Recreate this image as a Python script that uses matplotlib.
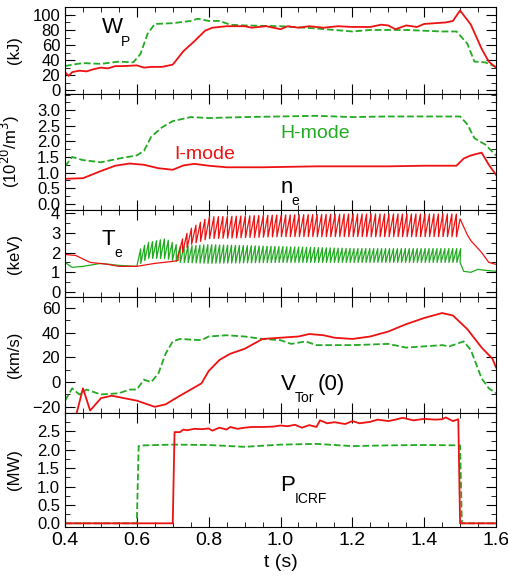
import numpy as np
import matplotlib
matplotlib.use("Agg")
import matplotlib.pyplot as plt
from matplotlib.ticker import AutoMinorLocator
from matplotlib.transforms import offset_copy

plt.rcParams['font.family'] = ['Liberation Sans', 'DejaVu Sans']

RED = '#ee1111'
GREEN = '#22aa22'

# W_P (kJ)
wp_i_t = [0.4, 0.41, 0.42, 0.44, 0.46, 0.48, 0.5, 0.52, 0.54, 0.56, 0.6, 0.62, 0.64, 0.67, 0.7, 0.73, 0.76, 0.79,
          0.81, 0.85, 0.9, 0.92, 0.96, 1.0, 1.02, 1.05, 1.08, 1.12, 1.16, 1.2, 1.25, 1.28, 1.3, 1.32, 1.35, 1.38,
          1.4, 1.46, 1.48, 1.5, 1.53, 1.56, 1.58, 1.6]
wp_i = [24, 19, 24, 26, 25, 28, 30, 29, 32, 32, 33, 30, 31, 31, 34, 52, 65, 79,
        83, 85, 85, 83, 85, 81, 85, 83, 85, 83, 85, 84, 84, 87, 86, 81, 86, 84,
        88, 90, 92, 106, 87, 55, 38, 30]
wp_h_t = [0.4, 0.42, 0.45, 0.5, 0.55, 0.59, 0.61, 0.63, 0.65, 0.7, 0.75, 0.77, 0.8, 0.83, 0.86, 0.9, 1.0, 1.1,
          1.2, 1.25, 1.35, 1.45, 1.49, 1.52, 1.54, 1.57, 1.6]
wp_h = [32, 34, 36, 35, 38, 37, 48, 75, 88, 89, 92, 95, 92, 92, 87, 86, 85, 82,
        78, 80, 80, 78, 78, 62, 38, 37, 31]

# n_e (1e20/m3)
ne_i_t = [0.4, 0.45, 0.5, 0.54, 0.58, 0.62, 0.66, 0.7, 0.73, 0.76, 0.8, 0.85, 0.95, 1.1, 1.3, 1.4, 1.49, 1.51,
          1.53, 1.56, 1.58, 1.6]
ne_i = [0.8, 0.82, 1.05, 1.22, 1.29, 1.25, 1.14, 1.09, 1.23, 1.28, 1.22, 1.17, 1.17, 1.2, 1.2, 1.22, 1.22, 1.45,
        1.55, 1.64, 1.25, 0.93]
ne_h_t = [0.4, 0.42, 0.45, 0.5, 0.55, 0.6, 0.62, 0.64, 0.67, 0.7, 0.75, 0.8, 0.9, 1.0, 1.1, 1.2, 1.3, 1.4, 1.5,
          1.52, 1.54, 1.57, 1.6]
ne_h = [1.2, 1.5, 1.4, 1.33, 1.45, 1.55, 1.7, 2.15, 2.45, 2.65, 2.78, 2.75, 2.78, 2.8, 2.82, 2.78, 2.8, 2.8, 2.8,
        2.55, 2.1, 1.9, 1.55]

# T_e (keV): smooth parts and sawtooth envelopes
te_i_pre_t = [0.4, 0.43, 0.47, 0.52, 0.55, 0.6, 0.65, 0.7, 0.715]
te_i_pre = [1.9, 1.85, 1.5, 1.4, 1.3, 1.3, 1.45, 1.55, 1.6]
te_i_env_t = [0.715, 0.75, 0.8, 1.0, 1.2, 1.49]
te_i_hi = [2.4, 3.2, 3.8, 3.9, 3.95, 3.95]
te_i_lo = [1.8, 2.4, 2.7, 2.8, 2.8, 2.8]
te_i_period = 0.0125
te_i_post_t = [1.49, 1.5, 1.52, 1.53, 1.56, 1.58, 1.6]
te_i_post = [2.8, 3.7, 2.9, 2.6, 2.0, 1.5, 1.4]

te_h_pre_t = [0.4, 0.42, 0.45, 0.5, 0.55, 0.6]
te_h_pre = [1.5, 1.25, 1.3, 1.45, 1.35, 1.3]
te_h_env_t = [0.6, 0.63, 0.68, 0.72, 0.8, 1.0, 1.2, 1.5]
te_h_hi = [2.0, 2.5, 2.7, 2.3, 2.4, 2.3, 2.2, 2.2]
te_h_lo = [1.3, 1.7, 1.7, 1.5, 1.45, 1.5, 1.5, 1.5]
te_h_period = 0.011
te_h_post_t = [1.5, 1.51, 1.53, 1.55, 1.57, 1.6]
te_h_post = [1.5, 1.05, 1.0, 1.15, 1.1, 1.05]

# V_Tor(0) (km/s)
vt_i_t = [0.4, 0.43, 0.45, 0.47, 0.5, 0.53, 0.6, 0.65, 0.68, 0.72, 0.75, 0.78, 0.8, 0.83, 0.86, 0.9, 0.95, 1.0,
          1.05, 1.08, 1.12, 1.15, 1.2, 1.25, 1.3, 1.35, 1.4, 1.45, 1.48, 1.52, 1.56, 1.59, 1.6]
vt_i = [-30, -28, -5, -23, -13, -11, -15, -20, -18, -11, -6, -1, 9, 18, 23, 27, 35, 36,
        37, 39, 38, 36, 35, 37, 41, 47, 52, 56, 54, 43, 28, 19, 12]
vt_h_t = [0.4, 0.42, 0.44, 0.46, 0.5, 0.55, 0.58, 0.6, 0.62, 0.64, 0.66, 0.68, 0.7, 0.72, 0.78, 0.8, 0.85, 0.9,
          0.95, 1.0, 1.03, 1.07, 1.1, 1.2, 1.3, 1.35, 1.45, 1.47, 1.51, 1.53, 1.56, 1.58, 1.6]
vt_h = [-15, -5, -10, -6, -10, -9, -6, -6, 2, 0, 7, 23, 33, 35, 34, 37, 38, 37,
        35, 34, 31, 33, 30, 30, 31, 28, 30, 29, 33, 26, 3, -5, -9]

# P_ICRF (MW)
p_i_t = [0.4, 0.7, 0.705, 0.72, 0.73, 0.74, 0.76, 0.78, 0.8, 0.81, 0.83, 0.85, 0.86, 0.88, 0.9, 0.92, 0.95,
         0.98, 1.0, 1.02, 1.04, 1.06, 1.08, 1.1, 1.11, 1.13, 1.15, 1.18, 1.2, 1.22, 1.25, 1.27, 1.3, 1.32, 1.34,
         1.37, 1.4, 1.43, 1.45, 1.46, 1.48, 1.495, 1.5, 1.6]
p_i = [0, 0, 2.48, 2.48, 2.55, 2.53, 2.57, 2.56, 2.58, 2.52, 2.6, 2.55, 2.62, 2.57, 2.6, 2.62, 2.62,
       2.63, 2.66, 2.64, 2.68, 2.6, 2.67, 2.62, 2.8, 2.72, 2.75, 2.7, 2.78, 2.72, 2.76, 2.82, 2.78, 2.82, 2.87,
       2.8, 2.84, 2.82, 2.83, 2.88, 2.78, 2.83, 0, 0]
p_h_t = [0.4, 0.6, 0.605, 0.62, 0.7, 0.8, 0.9, 1.0, 1.1, 1.2, 1.3, 1.4, 1.5, 1.505, 1.6]
p_h = [0, 0, 2.1, 2.12, 2.14, 2.13, 2.08, 2.14, 2.16, 2.1, 2.12, 2.13, 2.12, 0, 0]


def sawtooth(env_t, hi, lo, period):
    t0, t1 = env_t[0], env_t[-1]
    crashes = np.arange(t0, t1, period)
    ts, vs = [], []
    for c in crashes:
        ts += [c, c + period * 0.97]
        vs += [np.interp(c, env_t, lo), np.interp(c + period, env_t, hi)]
    return ts, vs


def label(ax, x, y, main, sub, dx, tail=None, dtail=0):
    ax.text(x, y, main, fontsize=16, transform=ax.transAxes)
    tr = offset_copy(ax.transAxes, fig=ax.figure, x=dx, y=-9, units='points')
    ax.text(x, y, sub, fontsize=10, transform=tr)
    if tail:
        tr2 = offset_copy(ax.transAxes, fig=ax.figure, x=dtail, y=0, units='points')
        ax.text(x, y, tail, fontsize=16, transform=tr2)


fig = plt.figure(figsize=(5.08, 5.82), dpi=100)
W, H = 508, 582
edges = [7, 94, 210, 297, 413, 527]
x0, x1 = 65, 496
axes = []
for k in range(5):
    ax = fig.add_axes([x0 / W, 1 - edges[k + 1] / H, (x1 - x0) / W, (edges[k + 1] - edges[k]) / H])
    axes.append(ax)

lw = 1.3
a = axes[0]
a.plot(wp_h_t, wp_h, '--', color=GREEN, lw=lw)
a.plot(wp_i_t, wp_i, '-', color=RED, lw=lw)
a.set_ylim(-5, 110.5)
a.set_yticks([0, 20, 40, 60, 80, 100])
a.set_ylabel('(kJ)')
label(a, 0.085, 0.7, 'W', 'P', 14)

a = axes[1]
a.plot(ne_h_t, ne_h, '--', color=GREEN, lw=lw)
a.plot(ne_i_t, ne_i, '-', color=RED, lw=lw)
a.set_ylim(-0.2, 3.52)
a.set_yticks([0, 0.5, 1, 1.5, 2, 2.5, 3])
a.set_yticklabels(['0.0', '0.5', '1.0', '1.5', '2.0', '2.5', '3.0'])
a.set_ylabel('(10$^{20}$/m$^3$)')
a.text(1.0, 2.1, 'H-mode', color=GREEN, fontsize=14)
a.text(0.704, 1.42, 'I-mode', color=RED, fontsize=14)
label(a, 0.5, 0.15, 'n', 'e', 8)

a = axes[2]
st, sv = sawtooth(te_h_env_t, te_h_hi, te_h_lo, te_h_period)
a.plot(te_h_pre_t + st + te_h_post_t, te_h_pre + sv + te_h_post, color=GREEN, lw=0.9)
st, sv = sawtooth(te_i_env_t, te_i_hi, te_i_lo, te_i_period)
a.plot(te_i_pre_t + st + te_i_post_t, te_i_pre + sv + te_i_post, color=RED, lw=0.9)
a.set_ylim(-0.25, 4.15)
a.set_yticks([0, 1, 2, 3, 4])
a.set_ylabel('(keV)')
label(a, 0.085, 0.6, 'T', 'e', 9)

a = axes[3]
a.plot(vt_h_t, vt_h, '--', color=GREEN, lw=lw)
a.plot(vt_i_t, vt_i, '-', color=RED, lw=lw)
a.set_ylim(-25, 69)
a.set_yticks([-20, 0, 20, 40, 60])
a.set_ylabel('(km/s)')
label(a, 0.5, 0.2, 'V', 'Tor', 10, '(0)', 27)

a = axes[4]
a.plot(p_h_t, p_h, '--', color=GREEN, lw=lw)
a.plot(p_i_t, p_i, '-', color=RED, lw=lw)
a.set_ylim(-0.1, 3.0)
a.set_yticks([0, 0.5, 1, 1.5, 2, 2.5])
a.set_yticklabels(['0.0', '0.5', '1.0', '1.5', '2.0', '2.5'])
a.set_ylabel('(MW)')
label(a, 0.5, 0.32, 'P', 'ICRF', 10)

for k, a in enumerate(axes):
    a.set_xlim(0.4, 1.6)
    a.set_xticks([0.4, 0.6, 0.8, 1.0, 1.2, 1.4, 1.6])
    a.xaxis.set_minor_locator(AutoMinorLocator(4))
    a.yaxis.set_minor_locator(AutoMinorLocator(2))
    a.tick_params(which='both', direction='in', top=True, right=True, labelsize=12)
    a.tick_params(which='major', length=7)
    a.tick_params(which='minor', length=3.5)
    a.yaxis.label.set_size(12)
    a.yaxis.set_label_coords(-0.1, 0.5)
    if k < 4:
        a.set_xticklabels([])
axes[4].tick_params(axis='x', labelsize=14)
axes[4].set_xlabel('t (s)', fontsize=14)

fig.savefig('out.png', dpi=100)
